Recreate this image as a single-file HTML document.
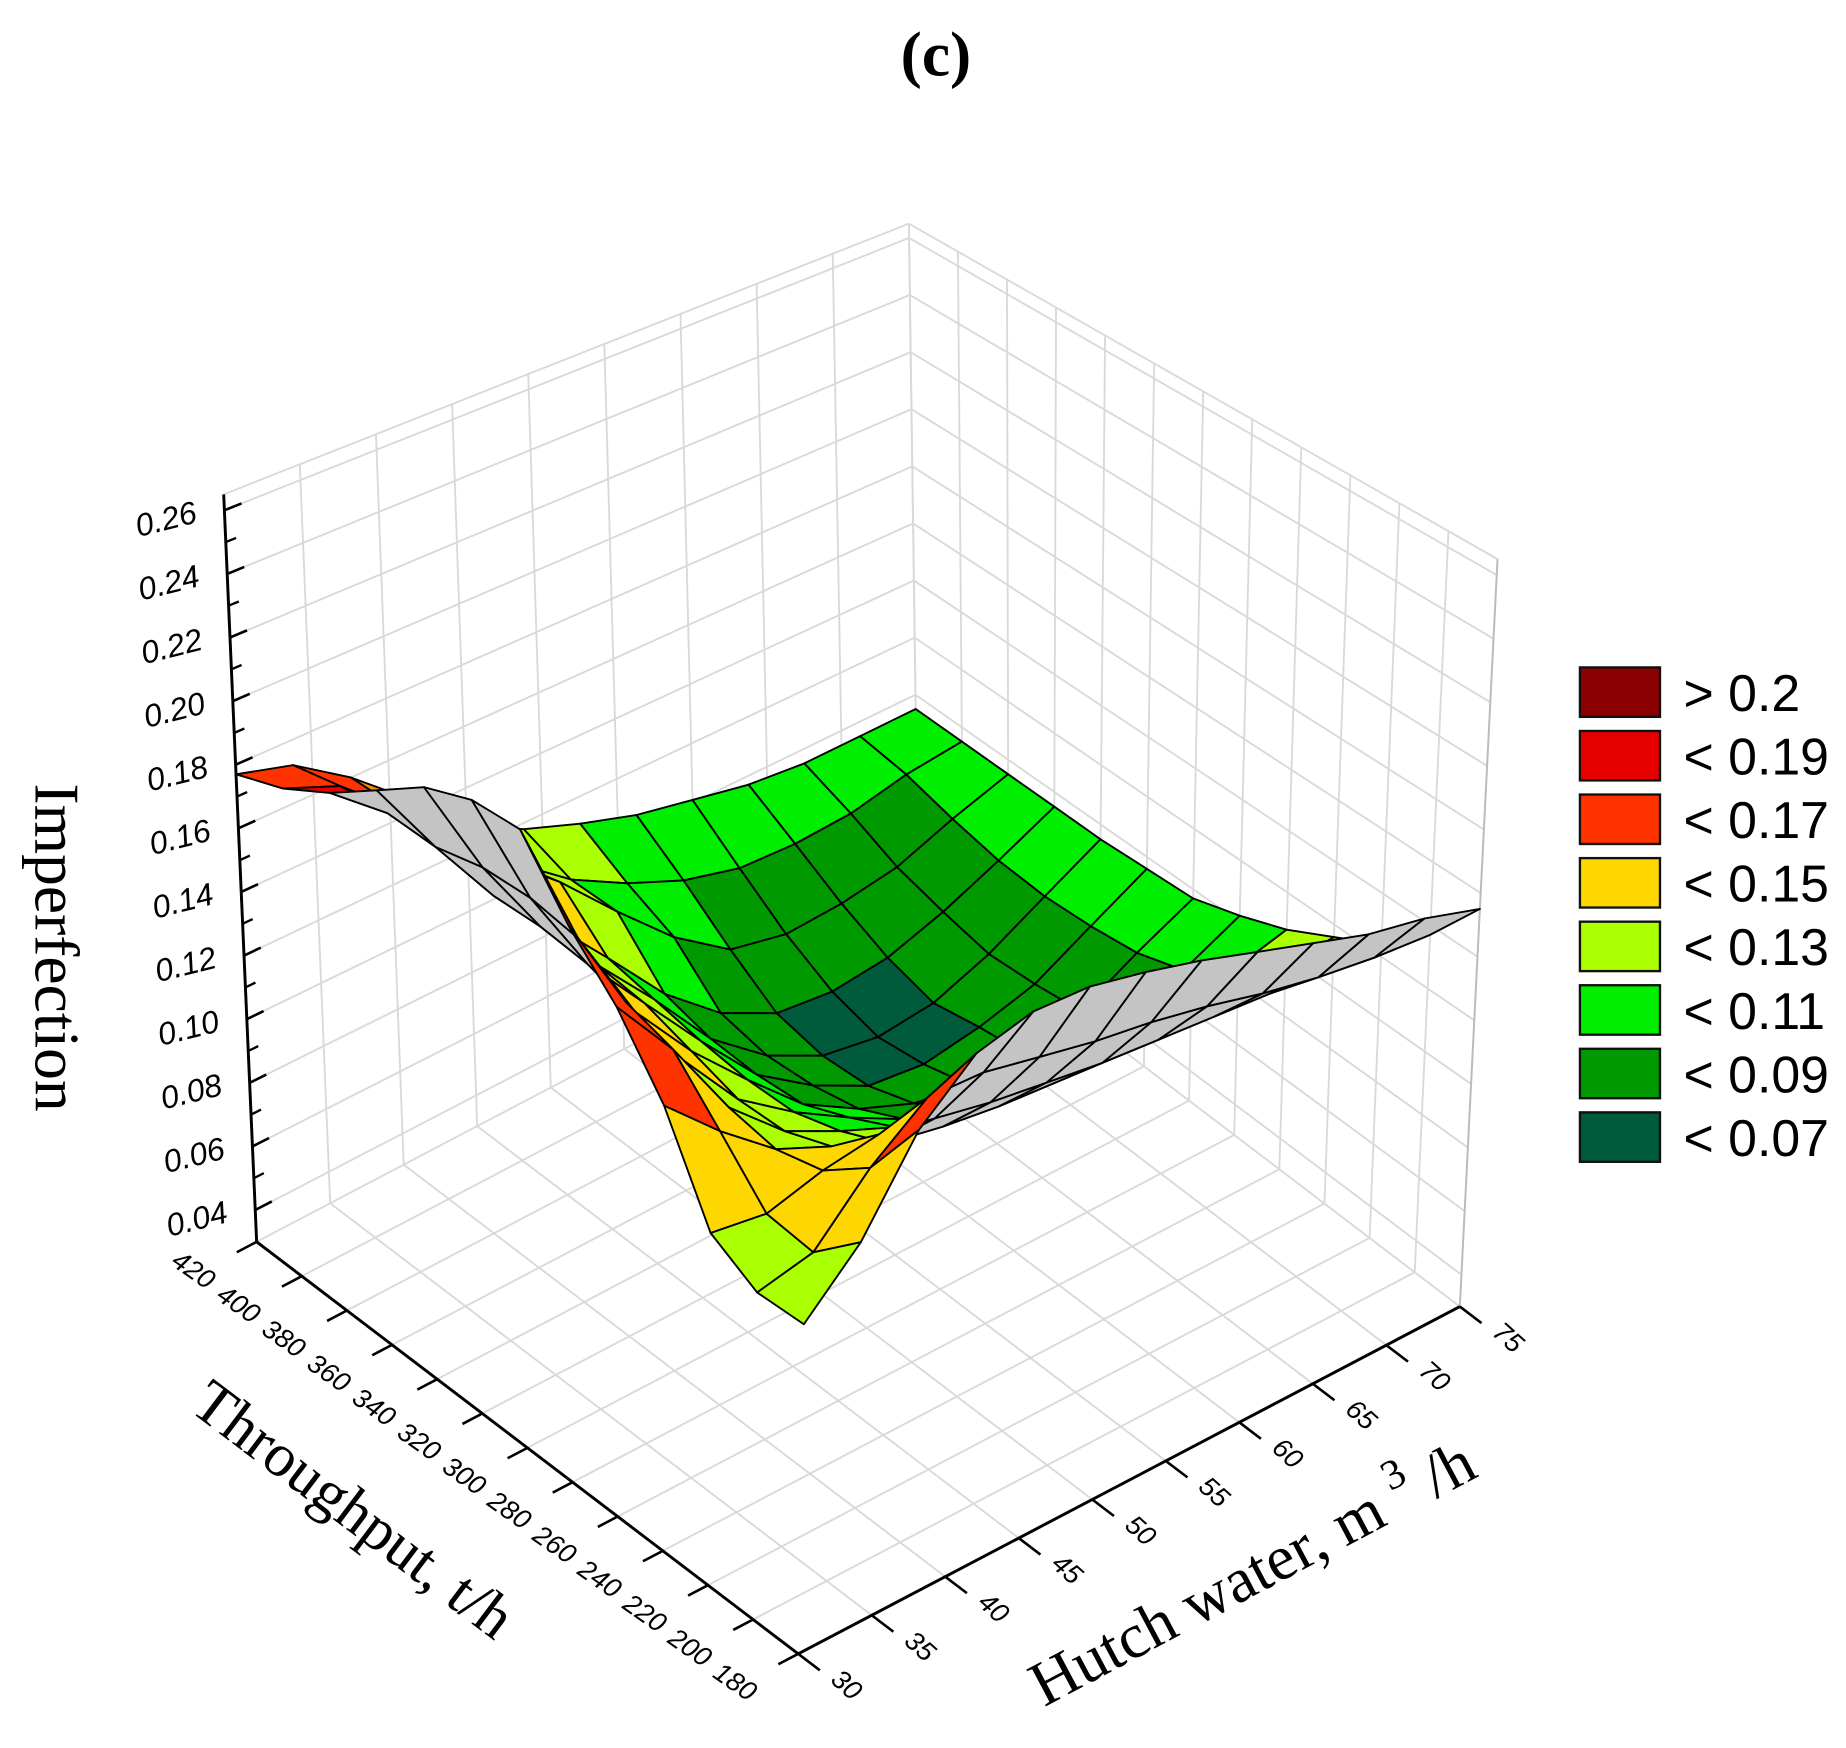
<!DOCTYPE html>
<html>
<head>
<meta charset="utf-8">
<style>
html,body{margin:0;padding:0;background:#fff;}
svg{display:block;}
.serif{font-family:"Liberation Serif",serif;}
.sans{font-family:"Liberation Sans",sans-serif;}
</style>
</head>
<body>
<svg id="chart" xmlns="http://www.w3.org/2000/svg" width="1846" height="1748" viewBox="0 0 1568 1485" preserveAspectRatio="none">
  <rect x="0" y="0" width="1568" height="1485" fill="#fff"/>
  <text class="serif" x="795" y="64" font-size="54" font-weight="bold" text-anchor="middle">(c)</text>
  <g id="walls"></g>
  <g id="axes"></g>
  <g id="surface"></g>
  <text class="serif" font-size="54" text-anchor="middle" transform="translate(30,805) rotate(90)">Imperfection</text>
  <text class="serif" font-size="52" text-anchor="middle" transform="translate(290,1296) rotate(37)">Throughput, t/h</text>
  <text class="serif" font-size="54" text-anchor="middle" transform="translate(1072,1352) rotate(-28)">Hutch water, m <tspan font-size="36" dy="-24">3</tspan><tspan dy="24"> /h</tspan></text>
  <g id="legend"></g>
</svg>
<script>
// ---- data ----
const gridThroughput = [180,200,220,240,260,280,300,320,340,360,380,400,420];
const gridHutch = [30,33.75,37.5,41.25,45,48.75,52.5,56.25,60,63.75,67.5,71.25,75];
// imperfection[i][j] : i -> throughput index, j -> hutch index
const imperfection = [
 [0.124,0.140,0.165,0.180,0.185,0.185,0.182,0.178,0.173,0.168,0.163,0.160,0.155],
 [0.124,0.128,0.145,0.158,0.158,0.155,0.152,0.150,0.147,0.143,0.140,0.138,0.137],
 [0.132,0.130,0.135,0.138,0.135,0.132,0.130,0.128,0.127,0.126,0.125,0.124,0.124],
 [0.160,0.145,0.132,0.125,0.118,0.115,0.113,0.112,0.111,0.111,0.112,0.114,0.116],
 [0.180,0.160,0.135,0.120,0.112,0.105,0.100,0.097,0.095,0.095,0.098,0.103,0.108],
 [0.195,0.165,0.140,0.120,0.108,0.098,0.089,0.084,0.081,0.082,0.086,0.093,0.102],
 [0.215,0.175,0.145,0.125,0.108,0.092,0.082,0.075,0.072,0.073,0.078,0.088,0.097],
 [0.215,0.178,0.150,0.130,0.110,0.091,0.079,0.070,0.068,0.071,0.076,0.086,0.096],
 [0.210,0.178,0.152,0.132,0.113,0.092,0.078,0.069,0.066,0.068,0.075,0.085,0.095],
 [0.200,0.175,0.152,0.135,0.116,0.096,0.081,0.072,0.070,0.072,0.078,0.086,0.095],
 [0.190,0.176,0.160,0.145,0.130,0.112,0.095,0.082,0.078,0.079,0.082,0.089,0.095],
 [0.182,0.175,0.160,0.143,0.126,0.112,0.102,0.094,0.089,0.088,0.089,0.093,0.095],
 [0.177,0.172,0.160,0.145,0.128,0.118,0.111,0.105,0.101,0.097,0.095,0.095,0.095]
];
const throughputTicks = [180,200,220,240,260,280,300,320,340,360,380,400,420];
const hutchTicks = [30,35,40,45,50,55,60,65,70,75];
const zTicks = [0.04,0.06,0.08,0.10,0.12,0.14,0.16,0.18,0.20,0.22,0.24,0.26];
const zTickLabels = ["0.04","0.06","0.08","0.10","0.12","0.14","0.16","0.18","0.20","0.22","0.24","0.26"];
const legendLabels = ["> 0.2","< 0.19","< 0.17","< 0.15","< 0.13","< 0.11","< 0.09","< 0.07"];
const legendColors = ["#8b0000","#e60000","#ff3300","#ffd700","#aaff00","#00ee00","#009900","#005a3c"];
const bandLimits = [0.2,0.18,0.16,0.15,0.13,0.11,0.09,0.07];
const bandColors = ["#8b0000","#e60000","#ff3300","#ff8c00","#ffd700","#aaff00","#00ee00","#009900"];

// ---- axis functions ----
const T_MIN=180,T_MAX=420,H_MIN=30,H_MAX=75,Z_MIN=0.03,Z_MAX=0.265;
function uOf(t){return (t-T_MIN)/(T_MAX-T_MIN);}
function vOf(h){return (h-H_MIN)/(H_MAX-H_MIN);}
function wOf(z){return (z-Z_MIN)/(Z_MAX-Z_MIN);}
function bil(a,b,c,d,u,v){return a*(1-u)*(1-v)+b*u*(1-v)+c*(1-u)*v+d*u*v;}
function P(u,v,w){
  const x0=bil(678,218,1240,780,u,v), y0=bil(1405,1055,1110,760,u,v);
  const x1=bil(690,190,1272,772,u,v), y1=bil(705,420,475,190,u,v);
  return [x0+(x1-x0)*w, y0+(y1-y0)*w];
}
const NS="http://www.w3.org/2000/svg";
function mk(tag,parent){const e=document.createElementNS(NS,tag);parent.appendChild(e);return e;}
function line(parent,a,b,stroke,sw){
  const l=mk('line',parent);
  l.setAttribute('x1',a[0]);l.setAttribute('y1',a[1]);l.setAttribute('x2',b[0]);l.setAttribute('y2',b[1]);
  l.setAttribute('stroke',stroke);l.setAttribute('stroke-width',sw);
  return l;
}
const walls=document.getElementById('walls');
const GC="#d9d9d9";
hutchTicks.forEach(h=>{
  const v=vOf(h);
  const l1=line(walls,P(1,v,0),P(1,v,1),GC,1.6);
  
  
  const l2=line(walls,P(0,v,0),P(1,v,0),GC,1.6);
  
  
});
throughputTicks.forEach(t=>{
  const u=uOf(t);
  const l1=line(walls,P(u,1,0),P(u,1,1),GC,1.6);
  
  
  const l2=line(walls,P(u,0,0),P(u,1,0),GC,1.6);
  
  
});
zTicks.concat([Z_MAX]).forEach(z=>{
  const w=wOf(z);
  const l1=line(walls,P(1,0,w),P(1,1,w),GC,1.6);
  
  
  const l2=line(walls,P(1,1,w),P(0,1,w),GC,1.6);
  
  
});
const re=line(walls,P(0,1,0),P(0,1,1),"#bbbbbb",1.6);



// ---- axes ----
const axes=document.getElementById('axes');
const za=line(axes,P(1,0,0),P(1,0,1),"#000",2.5);


const xa=line(axes,P(1,0,0),P(0,0,0),"#000",2.5);


const ya=line(axes,P(0,0,0),P(0,1,0),"#000",2.5);


zTicks.forEach((z,k)=>{
  const w=wOf(z);
  const a=P(1,0,w), b=P(1,0.025,w);
  const tk=line(axes,a,b,"#000",2.2);
  
  
  const wm=wOf(z+0.01);
  if(z+0.01<Z_MAX){
    const m=line(axes,P(1,0,wm),P(1,0.015,wm),"#000",2);
    
    
  }
  const tx=mk('text',axes);
  
  
  tx.setAttribute('class','sans');tx.setAttribute('font-size','27');tx.setAttribute('font-style','italic');
  tx.setAttribute('text-anchor','end');
  tx.setAttribute('transform','translate('+(a[0]-22)+','+(a[1]+10)+') rotate(-14)');
  tx.textContent=zTickLabels[k];
});
throughputTicks.forEach(t=>{
  const u=uOf(t);
  const a=P(u,0,0), b=P(u,-0.03,0);
  const tk=line(axes,a,b,"#000",2.2);
  
  
  const tx=mk('text',axes);
  
  
  tx.setAttribute('class','sans');tx.setAttribute('font-size','23');tx.setAttribute('font-style','italic');
  tx.setAttribute('text-anchor','middle');
  tx.setAttribute('transform','translate('+(a[0]-58)+','+(a[1]+30)+') rotate(35)');
  tx.textContent=String(t);
});
hutchTicks.forEach(h=>{
  const v=vOf(h);
  const a=P(0,v,0), b=P(-0.04,v,0);
  const tk=line(axes,a,b,"#000",2.2);
  
  
  const tx=mk('text',axes);
  
  
  tx.setAttribute('class','sans');tx.setAttribute('font-size','23');tx.setAttribute('font-style','italic');
  tx.setAttribute('text-anchor','middle');
  tx.setAttribute('transform','translate('+(a[0]+36)+','+(a[1]+32)+') rotate(42)');
  tx.textContent=String(h);
});

// ---- surface ----
function colorFor(z){
  for(let k=0;k<bandLimits.length;k++){ if(z>=bandLimits[k]) return bandColors[k]; }
  return "#005a3c";
}
function area(pts){let s=0;for(let k=0;k<pts.length;k++){const a=pts[k],b=pts[(k+1)%pts.length];s+=a[0]*b[1]-b[0]*a[1];}return s/2;}
const refSign=Math.sign(area([P(0,0,0),P(1,0,0),P(1,1,0),P(0,1,0)]));
const cells=[];
for(let i=0;i<gridThroughput.length-1;i++){
  for(let j=0;j<gridHutch.length-1;j++){
    const c=[[i,j],[i+1,j],[i+1,j+1],[i,j+1]];
    const pts=c.map(([a,b])=>P(uOf(gridThroughput[a]),vOf(gridHutch[b]),wOf(imperfection[a][b])));
    const zAvg=c.reduce((s,[a,b])=>s+imperfection[a][b],0)/4;
    const uc=(uOf(gridThroughput[i])+uOf(gridThroughput[i+1]))/2;
    const vc=(vOf(gridHutch[j])+vOf(gridHutch[j+1]))/2;
    const depth=uc+vc-0.66*wOf(zAvg);
    const back=Math.sign(area(pts))!==refSign;
    cells.push({pts,zAvg,depth,back});
  }
}
cells.sort((a,b)=>b.depth-a.depth);
const surf=document.getElementById('surface');
cells.forEach(cl=>{
  const p=mk('polygon',surf);
  
  
  p.setAttribute('points',cl.pts.map(q=>q[0].toFixed(1)+','+q[1].toFixed(1)).join(' '));
  p.setAttribute('fill',cl.back?'#c4c4c4':colorFor(cl.zAvg));
  p.setAttribute('stroke','#000');
  p.setAttribute('stroke-width','1.6');
  p.setAttribute('stroke-linejoin','round');
});

// ---- legend ----
const lg=document.getElementById('legend');
legendLabels.forEach((lab,k)=>{
  const y=567+k*54;
  const r=mk('rect',lg);
  
  
  r.setAttribute('x',1342);r.setAttribute('y',y);r.setAttribute('width',68);r.setAttribute('height',42);
  r.setAttribute('fill',legendColors[k]);r.setAttribute('stroke','#111');r.setAttribute('stroke-width','2');
  const t=mk('text',lg);
  
  
  t.setAttribute('class','sans');t.setAttribute('font-size','44');
  t.setAttribute('x',1430);t.setAttribute('y',y+37);
  t.textContent=lab;
});
</script>
</body>
</html>
